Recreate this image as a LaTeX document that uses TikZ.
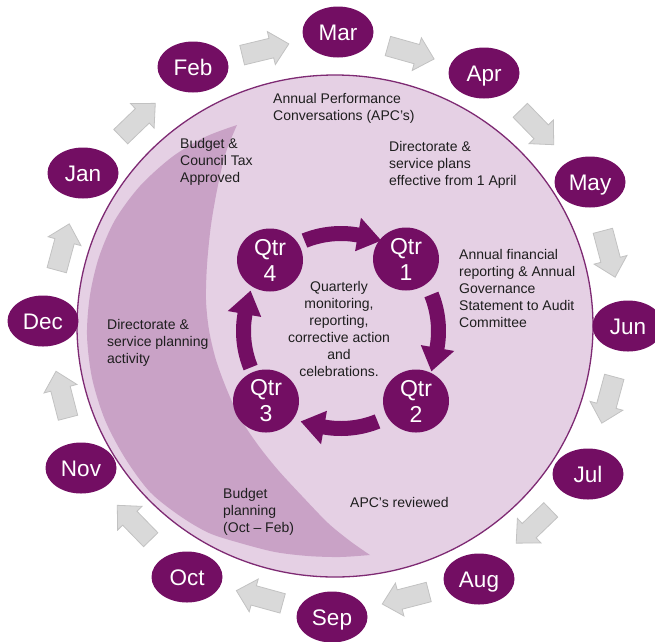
\documentclass[tikz,border=0pt]{standalone}
\usepackage{fontspec}
\setmainfont{Liberation Sans}
\usetikzlibrary{calc,shapes.geometric}
\definecolor{plum}{HTML}{730E63}
\definecolor{lilac}{HTML}{E5D0E4}
\definecolor{mauve}{HTML}{C9A2C6}
\definecolor{rim}{HTML}{7E2A73}
\definecolor{greyfill}{HTML}{D9D9D9}
\definecolor{greyline}{HTML}{C2C2C2}
\definecolor{ink}{HTML}{1E1E1E}
\begin{document}
\begin{tikzpicture}[x=1pt,y=-1pt,
  month/.style={ellipse, fill=plum, text=white, minimum width=71pt, minimum height=51pt,
    inner sep=0pt, text height=16pt, text depth=0pt, font=\fontsize{22.5}{26}\selectfont},
  quarter/.style={ellipse, fill=plum, text=white, minimum width=66pt, minimum height=63pt,
    inner sep=0pt, align=center, font=\fontsize{23}{26}\selectfont},
  note/.style={anchor=north west, align=left, inner sep=0pt, text=ink,
    font=\fontsize{14}{17}\selectfont},
  blockarrow/.style={fill=greyfill, draw=greyline, line width=0.8pt, line join=miter},
  ringarrow/.style={fill=plum},
  disc/.style={fill=lilac},
  crescent/.style={fill=mauve},
  discrim/.style={draw=rim, line width=1.3pt}
]
\useasboundingbox (0,0) rectangle (655,641);

% the year disc
\coordinate (core) at (335,326);
\fill[disc] (core) ellipse [x radius=258pt, y radius=251pt];

% darker planning crescent on the left
\fill[crescent]
  plot[smooth] coordinates {(237,125) (205,137) (172,157) (140,186) (115,220) (99,257)
    (90,295) (87,335) (92,378) (105,420) (125,458) (150,492) (180,516) (209,533)
    (240,543) (275,552) (308,556) (340,557) (370,555)}
  -- plot[smooth] coordinates {(370,555) (350,541) (328,523) (302,496) (278,470)
    (258,445) (240,418) (227,390) (216,360) (209,330) (206,300) (207,265) (211,225)
    (218,185) (226,152) (237,125)}
  -- cycle;

\draw[discrim] (core) ellipse [x radius=258pt, y radius=251pt];

% annotations inside the disc
\node[note] (apc) at (273,93) {Annual Performance\\Conversations (APC’s)};
\node[note] (budget) at (180,138) {Budget \&\\Council Tax\\Approved};
\node[note] (plans) at (389,141) {Directorate \&\\service plans\\effective from 1 April};
\node[note] (finance) at (459,249) {Annual financial\\reporting \& Annual\\Governance\\Statement to Audit\\Committee};
\node[note] (planning) at (107,319) {Directorate \&\\service planning\\activity};
\node[note] (budgetplan) at (223,488) {Budget\\planning\\(Oct – Feb)};
\node[note] (review) at (350,497) {APC’s reviewed};
\node[note, anchor=center, align=center] (quarterly) at (339,329)
  {Quarterly\\monitoring,\\reporting,\\corrective action\\and\\celebrations.};

% quarterly cycle arrows around the hub at (341,331)
\coordinate (hub) at (341,331);
\foreach \c [evaluate=\c as \s using \c-22,
             evaluate=\c as \b using \c+10,
             evaluate=\c as \t using \c+24] in {-90,0,90,180}{
  \fill[ringarrow]
    plot[smooth, domain=\s:\b, samples=12] ({341+105*cos(\x)},{331+105*sin(\x)})
    -- ($(hub)+(\b:115)$) -- ($(hub)+(\t:99)$) -- ($(hub)+(\b:81)$)
    -- plot[smooth, domain=\b:\s, samples=12] ({341+90*cos(\x)},{331+90*sin(\x)})
    -- cycle;
}

% quarters
\node[quarter] (q4) at (270,260) {Qtr\\4};
\node[quarter] (q1) at (406,259) {Qtr\\1};
\node[quarter] (q2) at (416,401) {Qtr\\2};
\node[quarter] (q3) at (266,401) {Qtr\\3};

% months
\node[month] (jan) at (83,173) {Jan};
\node[month] (feb) at (193,67) {Feb};
\node[month] (mar) at (338,32) {Mar};
\node[month] (apr) at (484,73) {Apr};
\node[month] (may) at (590,182) {May};
\node[month] (jun) at (628,326) {Jun};
\node[month] (jul) at (588,474) {Jul};
\node[month] (aug) at (479,579) {Aug};
\node[month] (sep) at (332,617) {Sep};
\node[month] (oct) at (187,577) {Oct};
\node[month] (nov) at (81,468) {Nov};
\node[month] (dec) at (43,321) {Dec};

% grey block arrows from each month to the next
\foreach \a/\b in {jan/feb,feb/mar,mar/apr,apr/may,may/jun,jun/jul,
                   jul/aug,aug/sep,sep/oct,oct/nov,nov/dec,dec/jan}{
  \coordinate (mid) at ($(\a)!0.5!(\b)$);
  \coordinate (tail) at ($(mid)!24pt!(\a)$);
  \coordinate (tip) at ($(mid)!24pt!(\b)$);
  \coordinate (neck) at ($(tail)!30pt!(tip)$);
  \draw[blockarrow] ($(tail)!10pt!90:(tip)$) -- ($(neck)!10pt!90:(tip)$)
    -- ($(neck)!17pt!90:(tip)$) -- (tip) -- ($(neck)!17pt!-90:(tip)$)
    -- ($(neck)!10pt!-90:(tip)$) -- ($(tail)!10pt!-90:(tip)$) -- cycle;
}
\end{tikzpicture}
\end{document}
